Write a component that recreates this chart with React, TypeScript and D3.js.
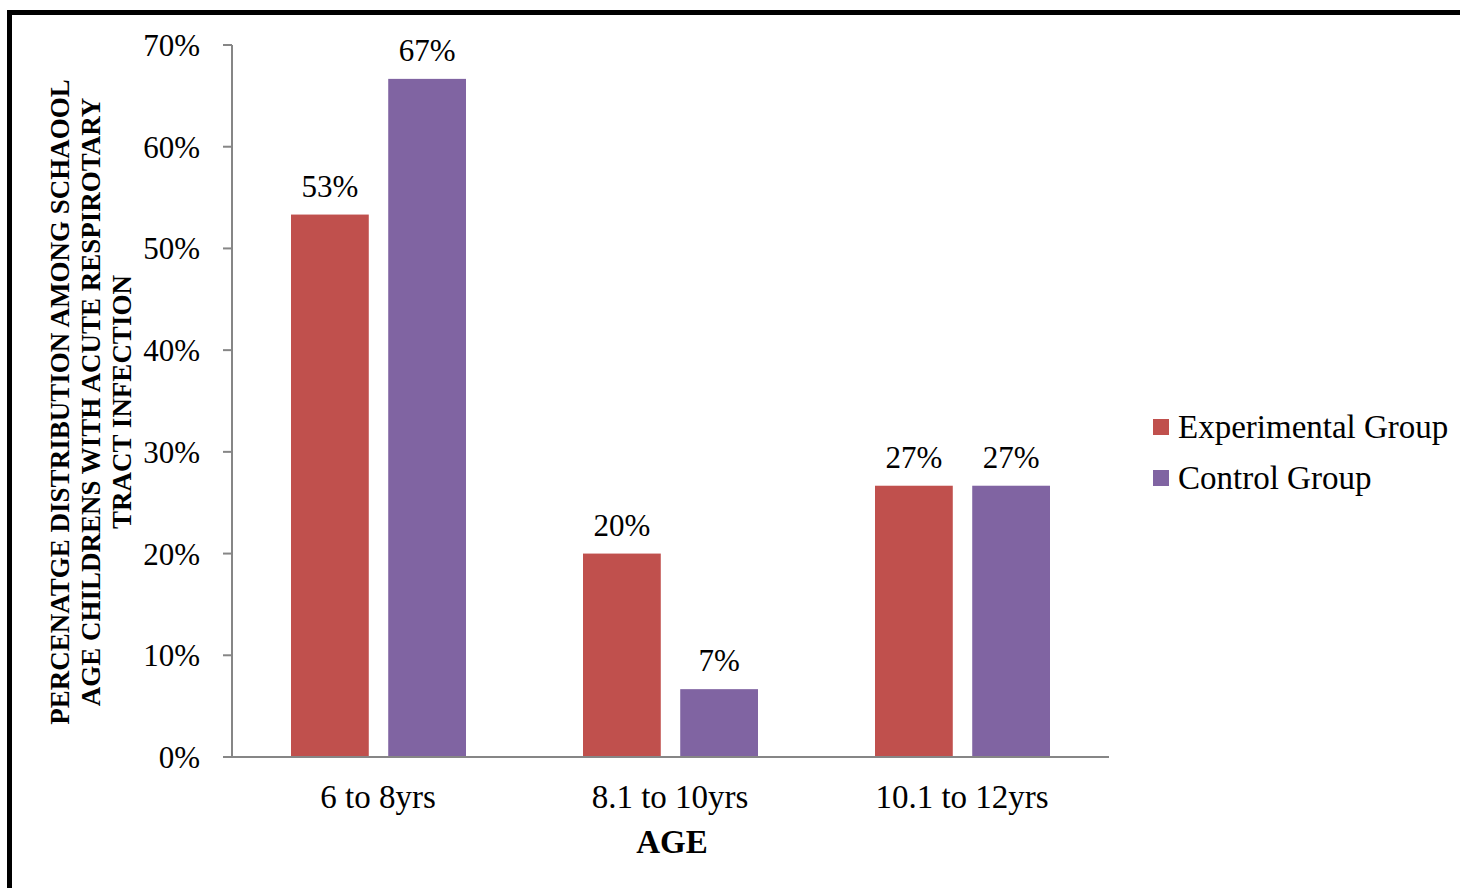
import React, { useEffect, useRef } from 'react';
import * as d3 from 'd3';

const categories = ['6 to 8yrs', '8.1 to 10yrs', '10.1 to 12yrs'];
const seriesNames = ['Experimental Group', 'Control Group'];
const experimental = [53.33, 20, 26.67];
const control = [66.67, 6.67, 26.67];
const yTicks = [0, 10, 20, 30, 40, 50, 60, 70];
const yTitleLines = [
  'PERCENATGE DISTRIBUTION AMONG SCHAOOL',
  'AGE CHILDRENS WITH ACUTE RESPIROTARY',
  'TRACT INFECTION',
];
const xTitle = 'AGE';

const colors = ['#C0504D', '#8064A2'];

const App = () => {
  const svgRef = useRef<SVGSVGElement>(null);

  useEffect(() => {
    document.body.style.margin = '0';
    const width = 1460;
    const height = 888;
    const margin = { left: 232, right: 352, top: 45, bottom: 131 };
    const innerW = width - margin.left - margin.right;
    const innerH = height - margin.top - margin.bottom;
    const font = '"Liberation Serif", "Times New Roman", serif';

    const svg = d3.select(svgRef.current).attr('width', width).attr('height', height);
    svg.selectAll('*').remove();

    svg.append('rect').attr('width', width).attr('height', height).attr('fill', '#fff');

    // outer frame, cut off at right and bottom
    svg
      .append('rect')
      .attr('x', 9.5)
      .attr('y', 12.5)
      .attr('width', width + 20)
      .attr('height', height + 20)
      .attr('fill', 'none')
      .attr('stroke', '#000')
      .attr('stroke-width', 5);

    const g = svg.append('g').attr('transform', `translate(${margin.left}, ${margin.top})`);

    const x = d3.scaleBand().domain(categories).range([0, innerW]);
    const x1 = d3
      .scaleBand()
      .domain(seriesNames)
      .range([59, x.bandwidth() - 58])
      .paddingInner(0.2);
    const y = d3.scaleLinear().domain([0, 70]).range([innerH, 0]);

    const data = categories.map((c, i) => ({
      cat: c,
      values: [experimental[i], control[i]],
    }));

    const groups = g
      .selectAll('g.cat')
      .data(data)
      .enter()
      .append('g')
      .attr('class', 'cat')
      .attr('transform', (d) => `translate(${x(d.cat)}, 0)`);

    groups
      .selectAll('rect')
      .data((d) => d.values.map((v, j) => ({ v, name: seriesNames[j], j })))
      .enter()
      .append('rect')
      .attr('x', (d) => x1(d.name) as number)
      .attr('y', (d) => y(d.v))
      .attr('width', x1.bandwidth())
      .attr('height', (d) => innerH - y(d.v))
      .attr('fill', (d) => colors[d.j]);

    groups
      .selectAll('text.lbl')
      .data((d) => d.values.map((v, j) => ({ v, name: seriesNames[j], j })))
      .enter()
      .append('text')
      .attr('class', 'lbl')
      .attr('x', (d) => (x1(d.name) as number) + x1.bandwidth() / 2)
      .attr('y', (d) => y(d.v) - 18)
      .attr('text-anchor', 'middle')
      .attr('font-family', font)
      .attr('font-size', 31)
      .text((d) => `${Math.round(d.v)}%`);

    // y axis
    const yAxis = g.append('g');
    yAxis
      .append('line')
      .attr('x1', 0)
      .attr('x2', 0)
      .attr('y1', 0)
      .attr('y2', innerH)
      .attr('stroke', '#868686')
      .attr('stroke-width', 2);
    yTicks.forEach((t) => {
      yAxis
        .append('line')
        .attr('x1', -9)
        .attr('x2', 0)
        .attr('y1', y(t))
        .attr('y2', y(t))
        .attr('stroke', '#868686')
        .attr('stroke-width', 2);
      yAxis
        .append('text')
        .attr('x', -32)
        .attr('y', y(t) + 11)
        .attr('text-anchor', 'end')
        .attr('font-family', font)
        .attr('font-size', 31)
        .text(`${t}%`);
    });

    // x axis
    g.append('line')
      .attr('x1', -9)
      .attr('x2', innerW + 1)
      .attr('y1', innerH)
      .attr('y2', innerH)
      .attr('stroke', '#868686')
      .attr('stroke-width', 2);
    categories.forEach((c) => {
      g.append('text')
        .attr('x', (x(c) as number) + x.bandwidth() / 2)
        .attr('y', innerH + 51)
        .attr('text-anchor', 'middle')
        .attr('font-family', font)
        .attr('font-size', 33)
        .text(c);
    });

    // axis titles
    g.append('text')
      .attr('x', innerW / 2 + 2)
      .attr('y', innerH + 96)
      .attr('text-anchor', 'middle')
      .attr('font-family', font)
      .attr('font-weight', 'bold')
      .attr('font-size', 33)
      .text(xTitle);

    const yt = svg
      .append('text')
      .attr('transform', `translate(60, 402) rotate(-90)`)
      .attr('text-anchor', 'middle')
      .attr('font-family', font)
      .attr('font-weight', 'bold')
      .attr('font-size', 27);
    yTitleLines.forEach((line, i) => {
      yt.append('tspan')
        .attr('x', 0)
        .attr('y', i * 31 + 9)
        .text(line);
    });

    // legend
    const legend = svg.append('g').attr('transform', 'translate(1153, 419)');
    seriesNames.forEach((name, i) => {
      legend
        .append('rect')
        .attr('x', 0)
        .attr('y', i * 51)
        .attr('width', 16)
        .attr('height', 16)
        .attr('fill', colors[i]);
      legend
        .append('text')
        .attr('x', 25)
        .attr('y', i * 51 + 19)
        .attr('font-family', font)
        .attr('font-size', 33)
        .text(name);
    });
  }, []);

  return (
    <div>
      <svg ref={svgRef} style={{ display: 'block' }}></svg>
    </div>
  );
};

export default App;
